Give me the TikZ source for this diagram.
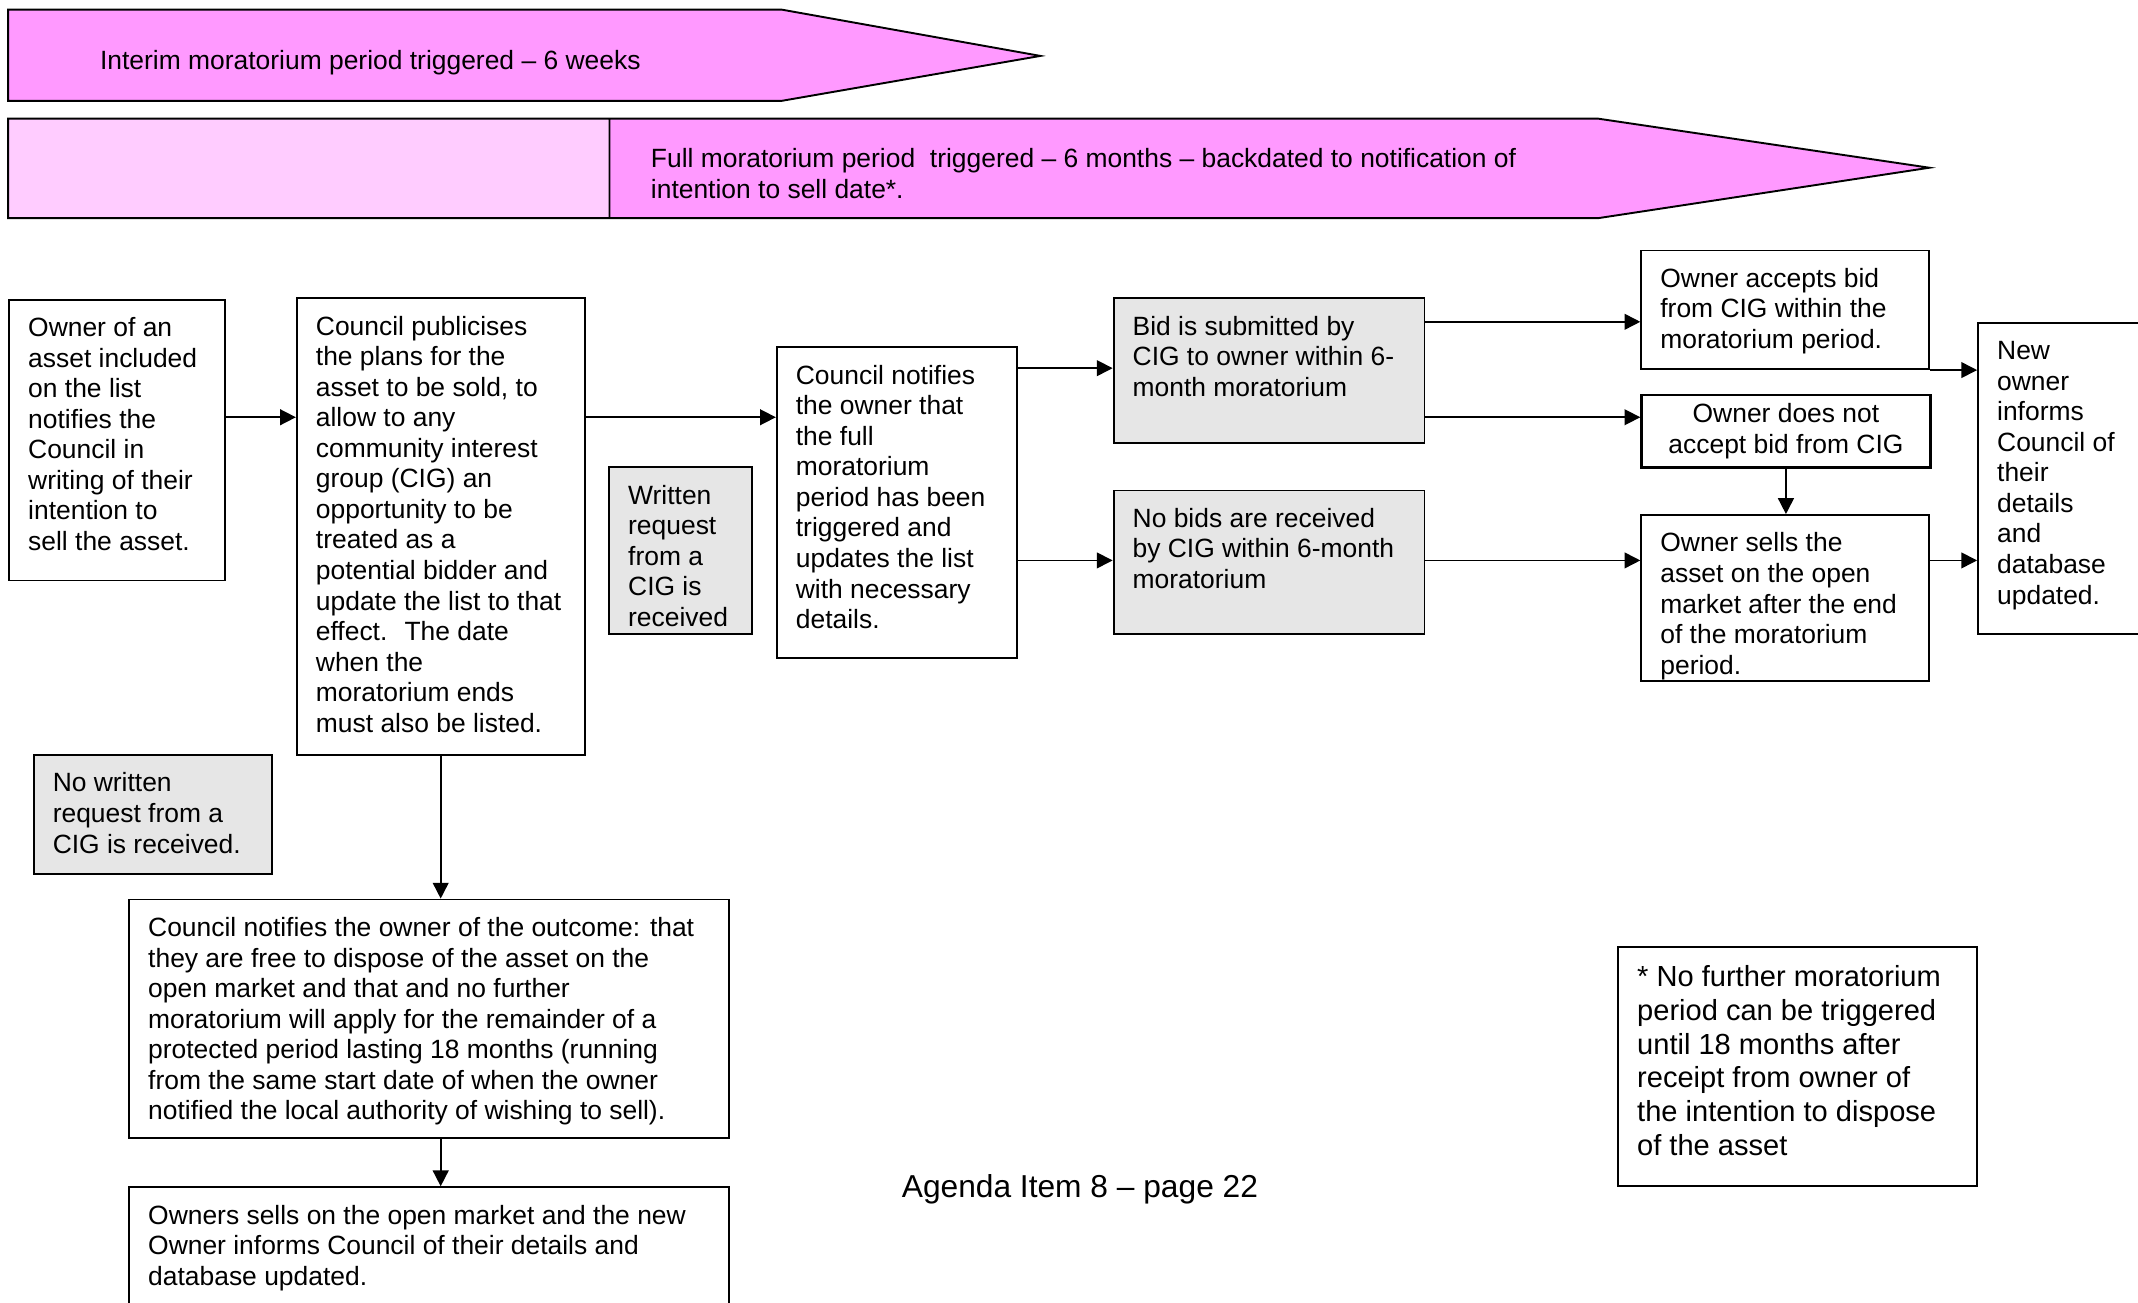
\documentclass[tikz,border=0pt]{standalone}
\usepackage{fontspec}
\setmainfont{Liberation Sans}
\usepackage{xcolor}
\usetikzlibrary{arrows.meta}
\definecolor{bandpink}{HTML}{FF99FF}
\definecolor{bandlight}{HTML}{FFCCFF}
\definecolor{cigfill}{HTML}{E6E6E6}

\begin{document}
\begin{tikzpicture}[x=0.5pt,y=-0.5pt,
  box/.style 2 args={draw,line width=0.7pt,anchor=north west,inner xsep=7pt,inner ysep=5.7pt,
    font=\fontsize{9.69}{11.2}\selectfont,
    execute at begin node={\begin{minipage}[t][\dimexpr 0.5pt*#2-11.4pt\relax][t]{\dimexpr 0.5pt*#1-14pt\relax}\raggedright\strut},
    execute at end node={\end{minipage}}},
  cig/.style={fill=cigfill},
  bandtext/.style={font=\fontsize{9.69}{11.2}\selectfont,inner sep=0pt},
  arr/.style={-{Triangle[length=5.8pt,width=5.8pt]},line width=0.6pt}]
  \useasboundingbox (0,0) rectangle (1568,955);
  \clip (0,0) rectangle (1568,955);

  % moratorium bands
  \draw[line width=0.7pt,fill=bandpink] (6,7) -- (573,7) -- (763,41) -- (573,74) -- (6,74) -- cycle;
  \node[bandtext,anchor=base west] (interim) at (73,51) {Interim moratorium period triggered – 6 weeks};
  \fill[bandlight] (6,87) rectangle (447,160);
  \fill[bandpink] (447,87) -- (1172,87) -- (1415,123) -- (1172,160) -- (447,160) -- cycle;
  \draw[line width=0.7pt] (6,87) -- (1172,87) -- (1415,123) -- (1172,160) -- (6,160) -- cycle
    (447,87) -- (447,160);
  \node[bandtext,anchor=north west,align=left] (full) at (477,107)
    {\strut Full moratorium period~ triggered – 6 months – backdated to notification of\\intention to sell date*.};

  % boxes
  \node[box={158}{206}] (own) at (6,219) {Owner of an\\asset included\\on the list\\notifies the\\Council in\\writing of their\\intention to\\sell the asset.};
  \node[box={211}{335}] (pub) at (217,218) {Council publicises\\the plans for the\\asset to be sold, to\\allow to any\\community interest\\group (CIG) an\\opportunity to be\\treated as a\\potential bidder and\\update the list to that\\effect.~ The date\\when the\\moratorium ends\\must also be listed.};
  \node[box={105}{122},cig] (wr) at (446,342) {Written\\request\\from a\\CIG is\\received};
  \node[box={176}{228}] (cn) at (569,254) {Council notifies\\the owner that\\the full\\moratorium\\period has been\\triggered and\\updates the list\\with necessary\\details.};
  \node[box={228}{106},cig] (bid) at (816,218) {Bid is submitted by\\CIG to owner within 6-\\month moratorium};
  \node[box={228}{105},cig] (nobid) at (816,359) {No bids are received\\by CIG within 6-month\\moratorium};
  \node[box={211}{87}] (acc) at (1203,183) {Owner accepts bid\\from CIG within the\\moratorium period.};
  \node[draw,line width=0.8pt,anchor=north west,minimum width=106pt,minimum height=26.5pt,
    align=center,inner sep=0pt,font=\fontsize{9.69}{11.2}\selectfont] (notacc) at (1203,289)
    {Owner does not\\accept bid from CIG};
  \node[box={211}{122}] (sells) at (1203,377) {Owner sells the\\asset on the open\\market after the end\\of the moratorium\\period.};
  \node[box={126}{228}] (newown) at (1450,236) {New\\owner\\informs\\Council of\\their\\details\\and\\database\\updated.};
  \node[box={175}{87},cig] (nowr) at (24,553) {No written\\request from a\\CIG is received.};
  \node[box={440}{175}] (outcome) at (94,659) {Council notifies the owner of the outcome: that\\they are free to dispose of the asset on the\\open market and that and no further\\moratorium will apply for the remainder of a\\protected period lasting 18 months (running\\from the same start date of when the owner\\notified the local authority of wishing to sell).};
  \node[box={440}{96}] (final) at (94,870) {Owners sells on the open market and the new\\Owner informs Council of their details and\\database updated.};
  \node[box={263}{175},font=\fontsize{10.66}{12.4}\selectfont] (foot) at (1186,694) {* No further moratorium\\period can be triggered\\until 18 months after\\receipt from owner of\\the intention to dispose\\of the asset};
  \node[anchor=base west,inner sep=0pt,font=\fontsize{11.63}{13.4}\selectfont] (agenda) at (661,878) {Agenda Item 8 – page 22};

  % connectors
  \draw[arr] (own.east |- 0,306) -- (pub.west |- 0,306);
  \draw[arr] (pub.east |- 0,306) -- (cn.west |- 0,306);
  \draw[arr] (pub.south) -- (pub.south |- outcome.north);
  \draw[arr] (outcome.south -| pub.south) -- (final.north -| pub.south);
  \draw[arr] (cn.east |- 0,270) -- (bid.west |- 0,270);
  \draw[arr] (cn.east |- 0,411) -- (nobid.west |- 0,411);
  \draw[arr] (bid.east |- 0,236) -- (acc.west |- 0,236);
  \draw[arr] (bid.east |- 0,306) -- (notacc.west |- 0,306);
  \draw[arr] (notacc.south) -- (sells.north -| notacc.south);
  \draw[arr] (nobid.east |- 0,411) -- (sells.west |- 0,411);
  \draw[arr] (acc.south east) -- (acc.south east -| newown.west);
  \draw[arr] (sells.east |- 0,411) -- (newown.west |- 0,411);
\end{tikzpicture}
\end{document}
